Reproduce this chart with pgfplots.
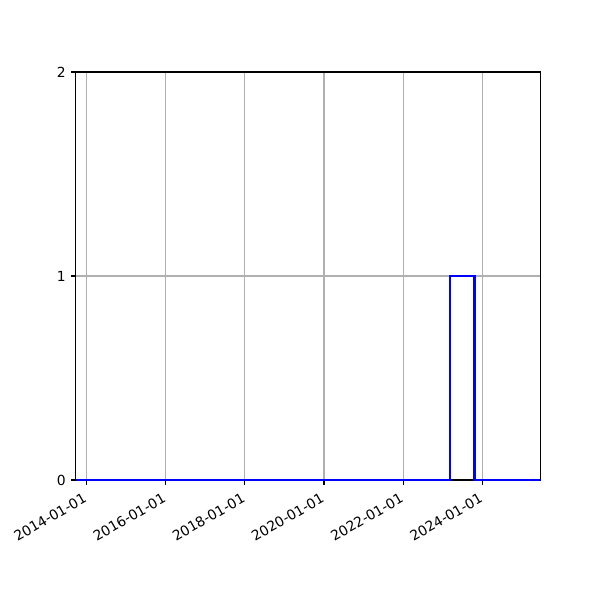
\documentclass[border=0pt]{standalone}
\usepackage{fontspec}
\setmainfont{DejaVu Sans}
\usepackage{pgfplots}
\pgfplotsset{compat=1.18}
\definecolor{gridgray}{HTML}{B0B0B0}
\begin{document}
\begin{tikzpicture}
\useasboundingbox (0,0) rectangle (432pt,432pt);
\begin{axis}[
  at={(54.5pt,86.4pt)}, anchor=south west,
  scale only axis,
  width=334.5pt, height=293.8pt,
  xmin=2013.73, xmax=2025.46,
  ymin=0, ymax=2,
  xtick={2014,2016,2018,2020,2022,2024},
  xticklabels={2014-01-01,2016-01-01,2018-01-01,2020-01-01,2022-01-01,2024-01-01},
  ytick={0,1,2},
  grid=major,
  major grid style={gridgray, line width=0.8pt},
  axis line style={black, line width=0.8pt},
  tick style={black, line width=0.8pt},
  tick align=outside,
  major tick length=3.5pt,
  tick pos=left,
  font=\fontsize{10pt}{12pt}\selectfont,
  /pgf/number format/assume math mode=true,
  x tick label style={rotate=30, anchor=north east, inner sep=1pt, yshift=-2pt, xshift=-4pt},
  y tick label style={inner sep=1pt, xshift=-2.5pt},
]
\addplot[blue, line width=1.5pt, mark=none] coordinates {
  (2013.73,0) (2023.19,0) (2023.19,1) (2023.80,1) (2023.80,0) (2025.46,0)
};
\end{axis}
\end{tikzpicture}
\end{document}
